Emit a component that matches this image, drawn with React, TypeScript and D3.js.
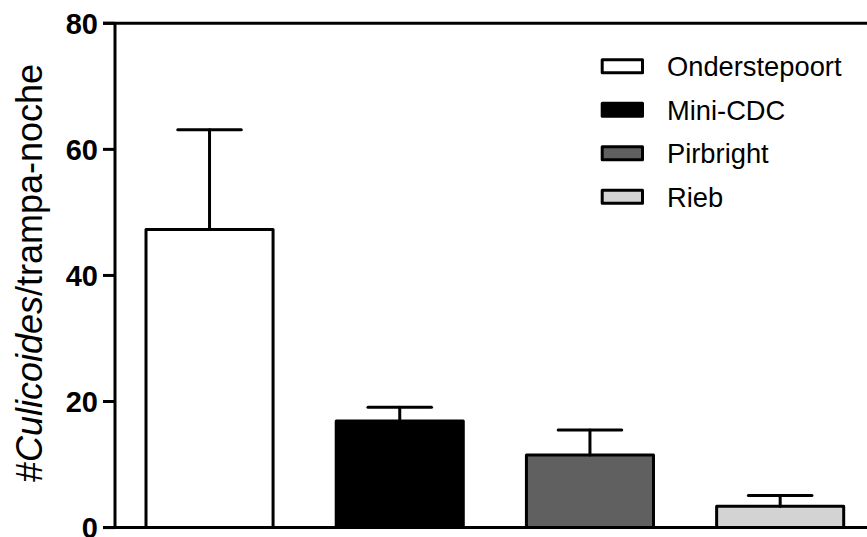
import React from "react";
import * as d3 from "d3";

// Trap types and their mean catch per trap-night with the upper error (SEM)
const categories = ["Onderstepoort", "Mini-CDC", "Pirbright", "Rieb"];
const means = [47.3, 16.9, 11.5, 3.4];
const sems = [15.8, 2.2, 4.0, 1.7];
const fills = ["#ffffff", "#000000", "#606060", "#d3d3d3"];
const yTicks = [0, 20, 40, 60, 80];

const W = 867;
const H = 537;
const FONT = "'Liberation Sans', Arial, Helvetica, sans-serif";

export default function App() {
  const x = d3
    .scaleBand<string>()
    .domain(categories)
    .range([115, 874.7])
    .paddingInner(0.332)
    .paddingOuter(0.163);
  const y = d3.scaleLinear().domain([0, 80]).range([527.6, 23.3]);
  const bw = x.bandwidth();
  const axisX = 115;

  return (
    <div style={{ position: "fixed", left: 0, top: 0 }}>
      <svg width={W} height={H} style={{ display: "block", background: "#fff" }}>
        {/* bars */}
        {categories.map((c, i) => (
          <rect
            key={c}
            x={x(c)}
            y={y(means[i])}
            width={bw}
            height={y(0) - y(means[i])}
            fill={fills[i]}
            stroke="#000"
            strokeWidth={3}
            strokeLinejoin="round"
          />
        ))}
        {/* upper error bars */}
        {categories.map((c, i) => {
          const cx = (x(c) as number) + bw / 2;
          const top = y(means[i] + sems[i]);
          return (
            <g key={c + "-err"} stroke="#000" strokeWidth={3} strokeLinecap="round">
              <line x1={cx} x2={cx} y1={y(means[i])} y2={top} />
              <line x1={cx - bw / 4} x2={cx + bw / 4} y1={top} y2={top} />
            </g>
          );
        })}
        {/* frame lines: top, baseline and y axis */}
        <line x1={103} x2={W} y1={y(80)} y2={y(80)} stroke="#000" strokeWidth={3} />
        <line x1={103} x2={W} y1={y(0)} y2={y(0)} stroke="#000" strokeWidth={3} />
        <line x1={axisX} x2={axisX} y1={y(80)} y2={y(0)} stroke="#000" strokeWidth={3} />
        {yTicks.map((t) => (
          <g key={t}>
            <line x1={103} x2={axisX} y1={y(t)} y2={y(t)} stroke="#000" strokeWidth={3} />
            <text
              x={98}
              y={y(t)}
              dy="0.36em"
              textAnchor="end"
              fontFamily={FONT}
              fontWeight="bold"
              fontSize={29}
              fill="#000"
            >
              {t}
            </text>
          </g>
        ))}
        {/* y axis title */}
        <text
          transform="translate(42,273) rotate(-90)"
          textAnchor="middle"
          fontFamily={FONT}
          fontSize={36}
          fill="#000"
        >
          #<tspan fontStyle="italic">Culicoides</tspan>/trampa-noche
        </text>
        {/* legend */}
        {categories.map((c, i) => {
          const cy = 66.3 + i * 43.5;
          return (
            <g key={c + "-leg"}>
              <rect
                x={602.2}
                y={cy - 6.5}
                width={40.3}
                height={13}
                fill={fills[i]}
                stroke="#000"
                strokeWidth={3}
                strokeLinejoin="round"
              />
              <text
                x={667}
                y={cy}
                dy="0.36em"
                fontFamily={FONT}
                fontSize={27.3}
                fill="#000"
              >
                {c}
              </text>
            </g>
          );
        })}
      </svg>
    </div>
  );
}
